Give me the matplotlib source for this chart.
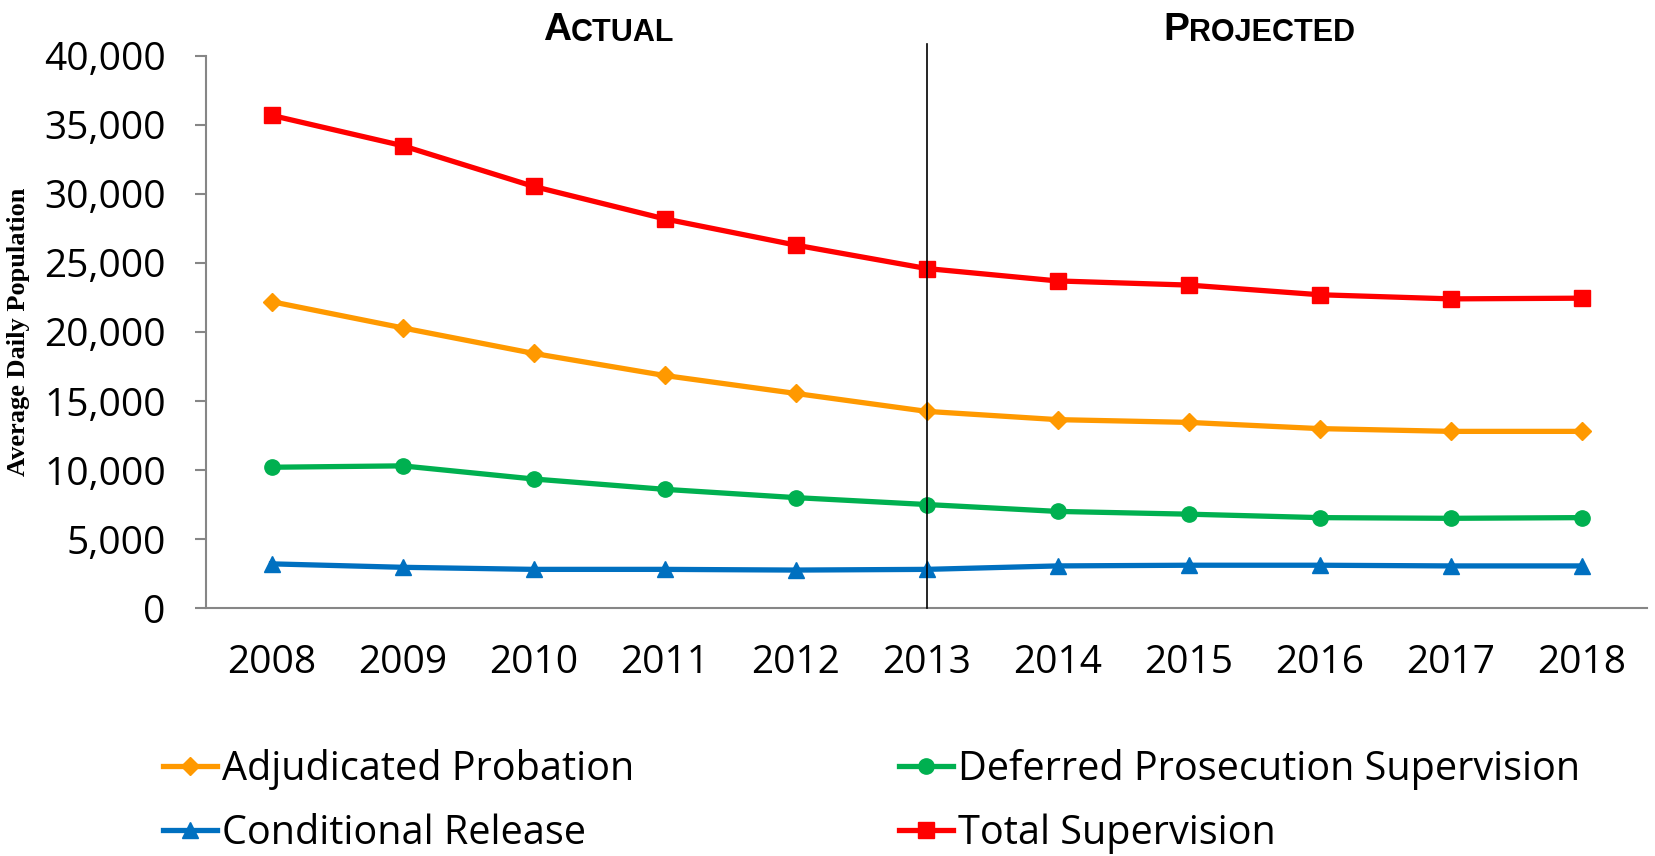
import numpy as np
import matplotlib
matplotlib.use("Agg")
import matplotlib.pyplot as plt

# Data
years = ["2008", "2009", "2010", "2011", "2012", "2013",
         "2014", "2015", "2016", "2017", "2018"]
adjudicated = [22200, 20300, 18450, 16850, 15550, 14250, 13650, 13450, 13000, 12800, 12800]
deferred = [10200, 10300, 9350, 8600, 8000, 7500, 7000, 6800, 6550, 6500, 6550]
conditional = [3200, 2950, 2800, 2800, 2750, 2800, 3050, 3100, 3100, 3050, 3050]
total = [35700, 33500, 30550, 28200, 26300, 24600, 23700, 23400, 22700, 22400, 22450]

split_year = "2013"
y_ticks = [0, 5000, 10000, 15000, 20000, 25000, 30000, 35000, 40000]

# Colors
ORANGE = "#FF9900"
GREEN = "#00B050"
BLUE = "#0070C0"
RED = "#FF0000"
AXIS_GRAY = "#868686"

TICK_FONT = "Open Sans"

fig = plt.figure(figsize=(16.56, 8.56), dpi=100)
ax = fig.add_axes([0.1244, 0.2897, 0.8702, 0.6449])

x = np.arange(len(years))
lw = 3.8
h_adj, = ax.plot(x, adjudicated, color=ORANGE, lw=lw, marker="D", ms=9,
                 label="Adjudicated Probation")
h_def, = ax.plot(x, deferred, color=GREEN, lw=lw, marker="o", ms=11,
                 label="Deferred Prosecution Supervision")
h_con, = ax.plot(x, conditional, color=BLUE, lw=lw, marker="^", ms=11,
                 label="Conditional Release")
h_tot, = ax.plot(x, total, color=RED, lw=lw, marker="s", ms=11,
                 label="Total Supervision")

# divider between actual and projected years
xs = years.index(split_year)
ax.plot([xs, xs], [0, 40900], color="black", lw=1.2, clip_on=False, zorder=5)

ax.set_xlim(-0.5, len(years) - 0.5)
ax.set_ylim(0, 40000)
ax.set_xticks(x)
ax.set_xticklabels(years, fontfamily=TICK_FONT, fontsize=28)
ax.set_yticks(y_ticks)
ax.set_yticklabels([f"{v:,}" for v in y_ticks], fontfamily=TICK_FONT, fontsize=28)
ax.tick_params(axis="x", length=0, pad=26)
ax.tick_params(axis="y", length=8, width=1.5, color=AXIS_GRAY, pad=21)

for side in ("top", "right"):
    ax.spines[side].set_visible(False)
for side in ("left", "bottom"):
    ax.spines[side].set_color(AXIS_GRAY)
    ax.spines[side].set_linewidth(1.5)

ax.set_ylabel("Average Daily Population", fontfamily="Liberation Serif",
              fontweight="bold", fontsize=19)
ax.yaxis.set_label_coords(-0.122, 0.5)

# small-caps style headers
def small_caps(x0, y0, text):
    t1 = fig.text(x0, y0, text[0], fontfamily="Liberation Sans", fontweight="bold",
                  fontsize=28, va="baseline", ha="left")
    ax.annotate(text[1:], xy=(1, 0), xycoords=t1, va="bottom", ha="left",
                fontfamily="Liberation Sans", fontweight="bold", fontsize=22,
                annotation_clip=False)

small_caps(0.3279, 0.9533, "ACTUAL")
small_caps(0.7023, 0.9533, "PROJECTED")

fig.legend(handles=[h_adj, h_con, h_def, h_tot], ncol=2, frameon=False,
           loc="upper left", bbox_to_anchor=(0.0984, 0.125),
           bbox_transform=fig.transFigure,
           prop={"family": TICK_FONT, "size": 28.5},
           handlelength=1.36, handletextpad=0.12, columnspacing=6.7,
           labelspacing=0.6, borderpad=0, borderaxespad=0)

fig.savefig("out.png", dpi=100)
